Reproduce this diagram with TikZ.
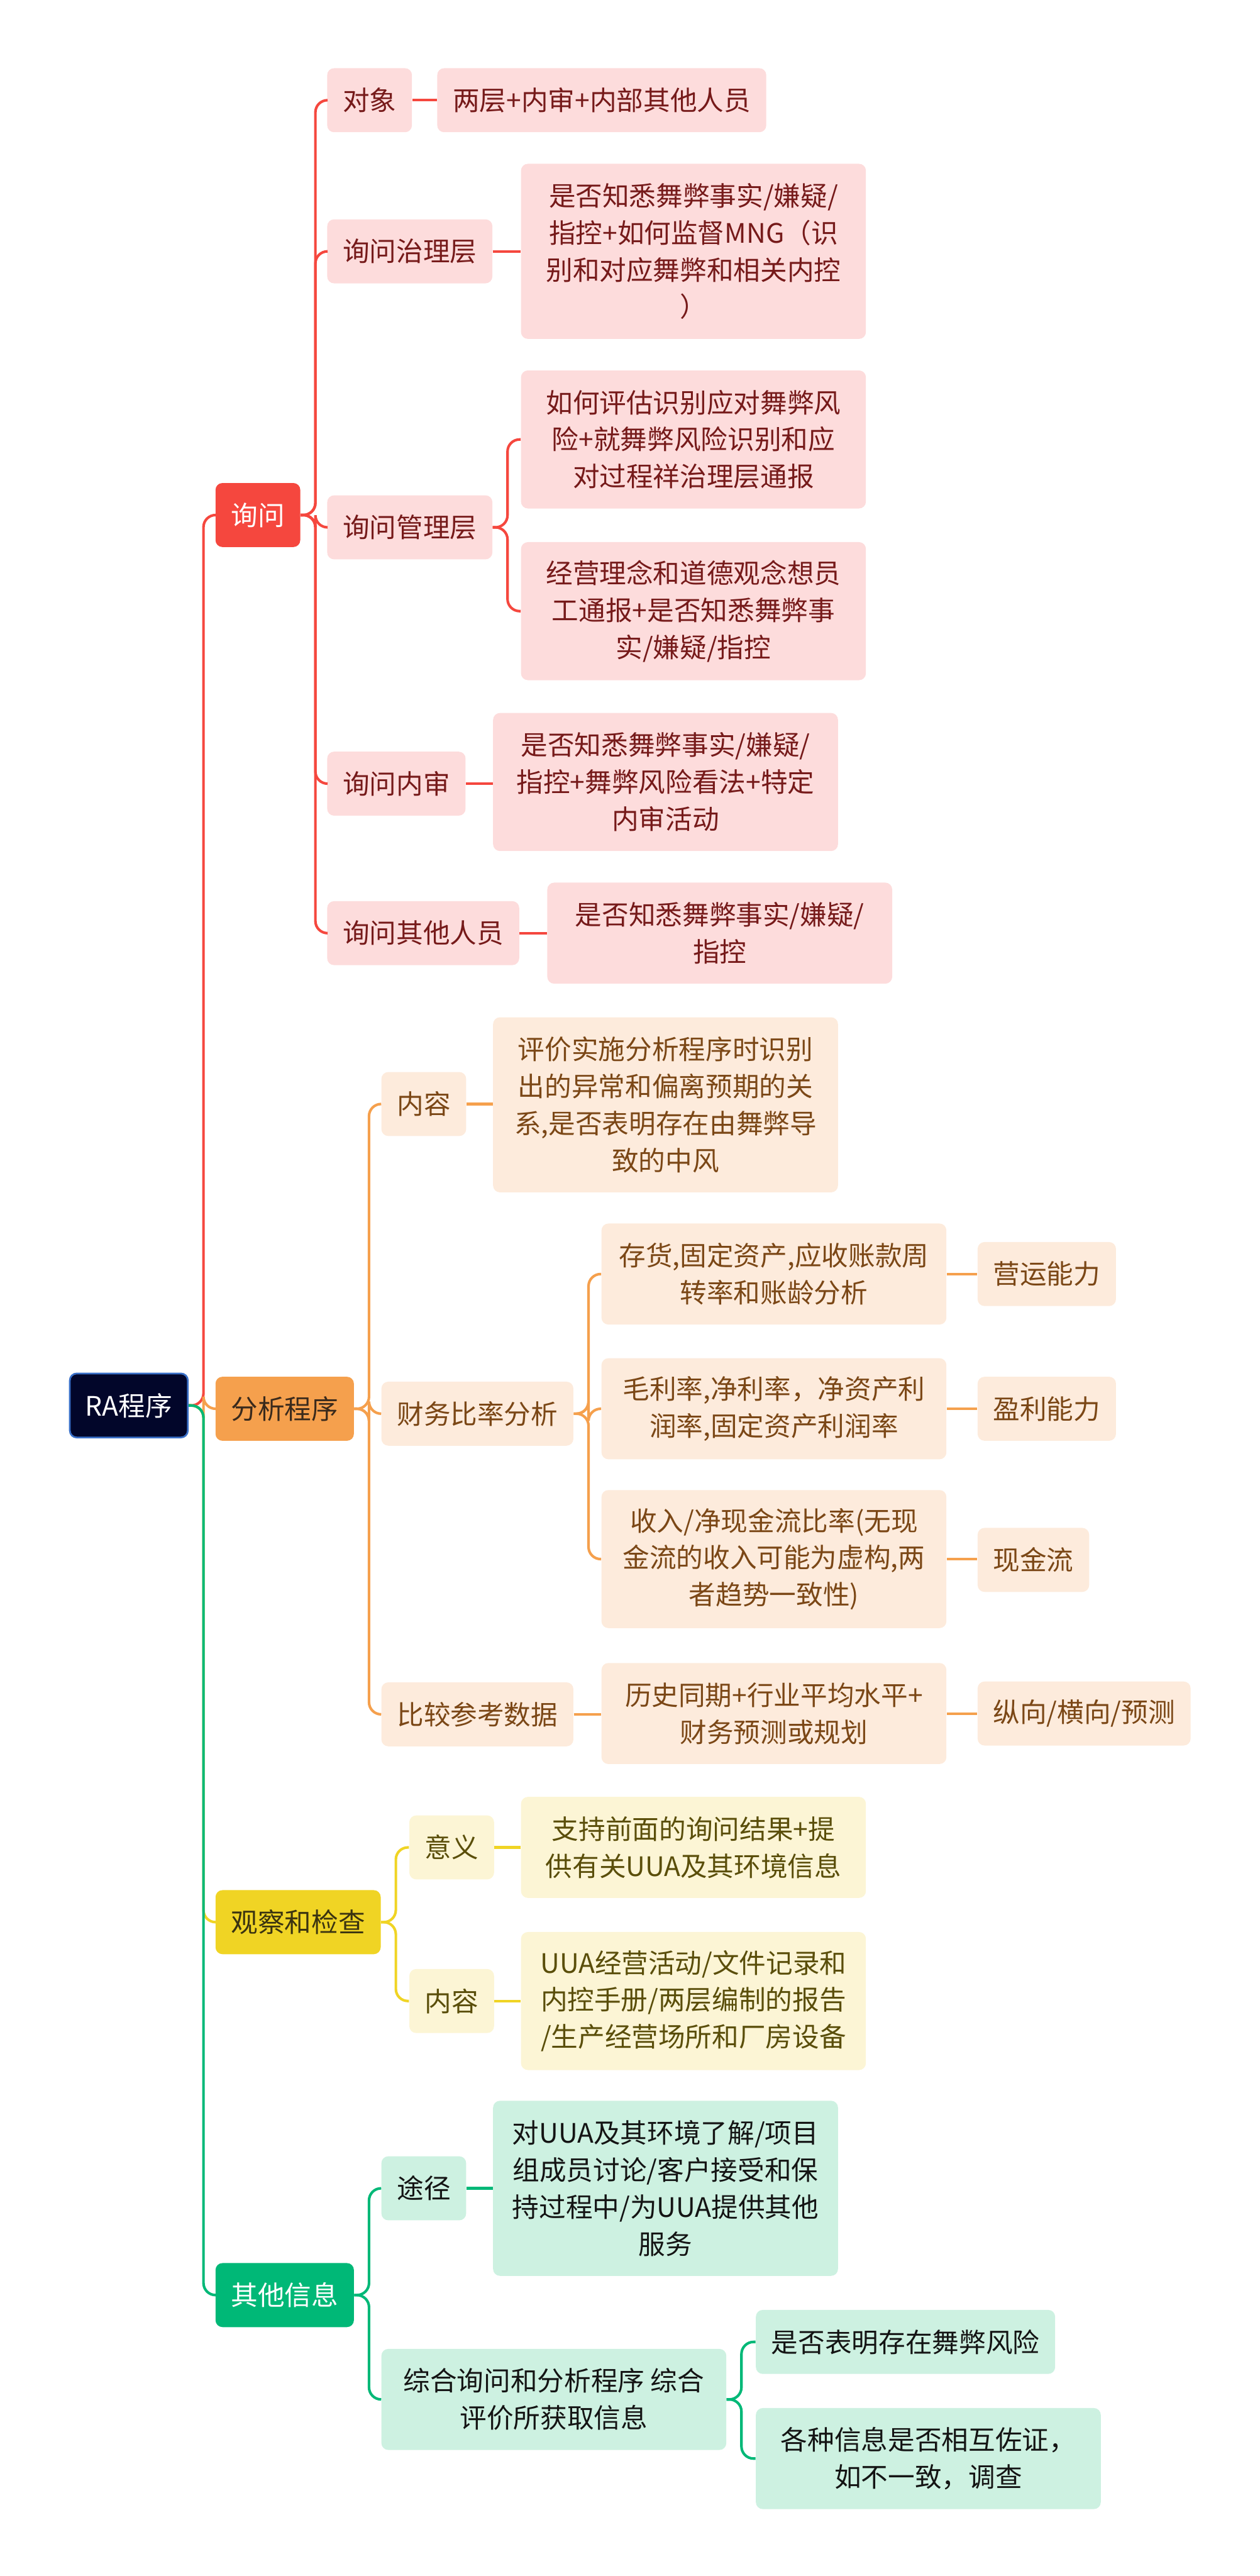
\documentclass[tikz,border=0pt]{standalone}
\usepackage{fontspec}
\setmainfont{Noto Sans CJK SC}

\definecolor{rootfill}{HTML}{02062A}
\definecolor{rootrule}{HTML}{3A70C8}
\definecolor{redmain}{HTML}{F5473E}
\definecolor{redsoft}{HTML}{FDDCDC}
\definecolor{redtext}{HTML}{761A1A}
\definecolor{orgmain}{HTML}{F5A04D}
\definecolor{orgsoft}{HTML}{FDEBDC}
\definecolor{orgtext}{HTML}{7B4716}
\definecolor{orgdark}{HTML}{3A2A1C}
\definecolor{ylwmain}{HTML}{F0D424}
\definecolor{ylwsoft}{HTML}{FCF5D5}
\definecolor{ylwtext}{HTML}{5A4E0A}
\definecolor{ylwdark}{HTML}{3A3310}
\definecolor{grnmain}{HTML}{00B877}
\definecolor{grnsoft}{HTML}{CDF1E1}
\definecolor{grntext}{HTML}{141414}

\begin{document}
\begin{tikzpicture}[x=0.033377cm,y=-0.033377cm,font=\fontsize{15.5}{21.4}\selectfont]
      \tikzstyle{box}=[anchor=west,rounded corners=4pt,inner xsep=9pt,inner ysep=0pt,minimum height=37pt,align=center]
      \tikzstyle{two}=[minimum height=58.4pt]
      \tikzstyle{three}=[minimum height=79.8pt]
      \tikzstyle{four}=[minimum height=101.2pt]
      \tikzstyle{wide}=[minimum width=199.4pt]
      \tikzstyle{link}=[line width=1.5pt,rounded corners=7pt]
      \tikzstyle{rootbox}=[box,fill=rootfill,draw=rootrule,line width=1pt,text=white]
      \tikzstyle{redtop}=[box,fill=redmain,text=white]
      \tikzstyle{redsub}=[box,fill=redsoft,text=redtext]
      \tikzstyle{orgtop}=[box,fill=orgmain,text=orgdark]
      \tikzstyle{orgsub}=[box,fill=orgsoft,text=orgtext]
      \tikzstyle{ylwtop}=[box,fill=ylwmain,text=ylwdark]
      \tikzstyle{ylwsub}=[box,fill=ylwsoft,text=ylwtext]
      \tikzstyle{grntop}=[box,fill=grnmain,text=white]
      \tikzstyle{grnsub}=[box,fill=grnsoft,text=grntext]
      \useasboundingbox (0,0) rectangle (767,1568);
      \node[rootbox] (R_0) at (42,855.5) {RA程序};
      % first level
      \node[redtop] (A_1) at (131,313.5) {询问};
      \node[orgtop] (A_2) at (131,857.5) {分析程序};
      \node[ylwtop] (A_3) at (131,1170) {观察和检查};
      \node[grntop] (A_4) at (131,1397) {其他信息};
      % inquiry
      \node[redsub] (B_1) at (199,61)  {对象};
      \node[redsub] (B_2) at (199,153) {询问治理层};
      \node[redsub] (B_3) at (199,321) {询问管理层};
      \node[redsub] (B_4) at (199,477) {询问内审};
      \node[redsub] (B_5) at (199,568) {询问其他人员};
      \node[redsub] (B_11) at (266,61) {两层+内审+内部其他人员};
      \node[redsub,wide,four] (B_21) at (317,153) {是否知悉舞弊事实/嫌疑/\\指控+如何监督MNG（识\\别和对应舞弊和相关内控\\）};
      \node[redsub,wide,three] (B_31) at (317,267.5) {如何评估识别应对舞弊风\\险+就舞弊风险识别和应\\对过程祥治理层通报};
      \node[redsub,wide,three] (B_32) at (317,372) {经营理念和道德观念想员\\工通报+是否知悉舞弊事\\实/嫌疑/指控};
      \node[redsub,wide,three] (B_41) at (300,476) {是否知悉舞弊事实/嫌疑/\\指控+舞弊风险看法+特定\\内审活动};
      \node[redsub,wide,two] (B_51) at (333,568) {是否知悉舞弊事实/嫌疑/\\指控};
      % analysis
      \node[orgsub] (C_1) at (232,672)    {内容};
      \node[orgsub] (C_2) at (232,860.5)  {财务比率分析};
      \node[orgsub] (C_3) at (232,1043.5) {比较参考数据};
      \node[orgsub,wide,four] (C_11) at (300,672.5) {评价实施分析程序时识别\\出的异常和偏离预期的关\\系,是否表明存在由舞弊导\\致的中风};
      \node[orgsub,wide,two] (C_21) at (366,775.5) {存货,固定资产,应收账款周\\转率和账龄分析};
      \node[orgsub,wide,two] (C_22) at (366,857.5) {毛利率,净利率，净资产利\\润率,固定资产利润率};
      \node[orgsub,wide,three] (C_23) at (366,949) {收入/净现金流比率(无现\\金流的收入可能为虚构,两\\者趋势一致性)};
      \node[orgsub,wide,two] (C_31) at (366,1043) {历史同期+行业平均水平+\\财务预测或规划};
      \node[orgsub] (C_211) at (595,775.5) {营运能力};
      \node[orgsub] (C_221) at (595,857.5) {盈利能力};
      \node[orgsub] (C_231) at (595,949.5) {现金流};
      \node[orgsub] (C_311) at (595,1043)  {纵向/横向/预测};
      % observation
      \node[ylwsub] (D_1) at (249,1124.5) {意义};
      \node[ylwsub] (D_2) at (249,1218)   {内容};
      \node[ylwsub,wide,two] (D_11) at (317,1124.5) {支持前面的询问结果+提\\供有关UUA及其环境信息};
      \node[ylwsub,wide,three] (D_21) at (317,1218) {UUA经营活动/文件记录和\\内控手册/两层编制的报告\\/生产经营场所和厂房设备};
      % other information
      \node[grnsub] (E_1) at (232,1332) {途径};
      \node[grnsub,wide,two] (E_2) at (232,1460.5) {综合询问和分析程序 综合\\评价所获取信息};
      \node[grnsub,wide,four] (E_11) at (300,1332) {对UUA及其环境了解/项目\\组成员讨论/客户接受和保\\持过程中/为UUA提供其他\\服务};
      \node[grnsub] (E_21) at (460,1425.5) {是否表明存在舞弊风险};
      \node[grnsub,wide,two] (E_22) at (460,1496.5) {各种信息是否相互佐证，\\如不一致，调查};
      % links
      \draw[link,redmain] (R_0.east) -- ++(9,0) |- (A_1.west);
      \draw[link,orgmain] (R_0.east) -- ++(9,0) |- (A_2.west);
      \draw[link,ylwmain] (R_0.east) -- ++(9,0) |- (A_3.west);
      \draw[link,grnmain] (R_0.east) -- ++(9,0) |- (A_4.west);
      \foreach \n in {B_1,B_2,B_3,B_4,B_5}
        \draw[link,redmain] (A_1.east) -- ++(9,0) |- (\n.west);
      \draw[link,redmain] (B_3.east) -- ++(9,0) |- (B_31.west);
      \draw[link,redmain] (B_3.east) -- ++(9,0) |- (B_32.west);
      \foreach \a/\b in {B_1/B_11,B_2/B_21,B_4/B_41,B_5/B_51}
        \draw[link,redmain] (\a.east) -- (\a.east -| \b.west);
      \foreach \n in {C_1,C_2,C_3}
        \draw[link,orgmain] (A_2.east) -- ++(9,0) |- (\n.west);
      \foreach \n in {C_21,C_22,C_23}
        \draw[link,orgmain] (C_2.east) -- ++(9,0) |- (\n.west);
      \foreach \a/\b in {C_1/C_11,C_3/C_31,C_21/C_211,C_22/C_221,C_23/C_231,C_31/C_311}
        \draw[link,orgmain] (\a.east) -- (\a.east -| \b.west);
      \foreach \n in {D_1,D_2}
        \draw[link,ylwmain] (A_3.east) -- ++(9,0) |- (\n.west);
      \foreach \a/\b in {D_1/D_11,D_2/D_21}
        \draw[link,ylwmain] (\a.east) -- (\a.east -| \b.west);
      \foreach \n in {E_1,E_2}
        \draw[link,grnmain] (A_4.east) -- ++(9,0) |- (\n.west);
      \draw[link,grnmain] (E_1.east) -- (E_1.east -| E_11.west);
      \foreach \n in {E_21,E_22}
        \draw[link,grnmain] (E_2.east) -- ++(9,0) |- (\n.west);
    \end{tikzpicture}
\end{document}
